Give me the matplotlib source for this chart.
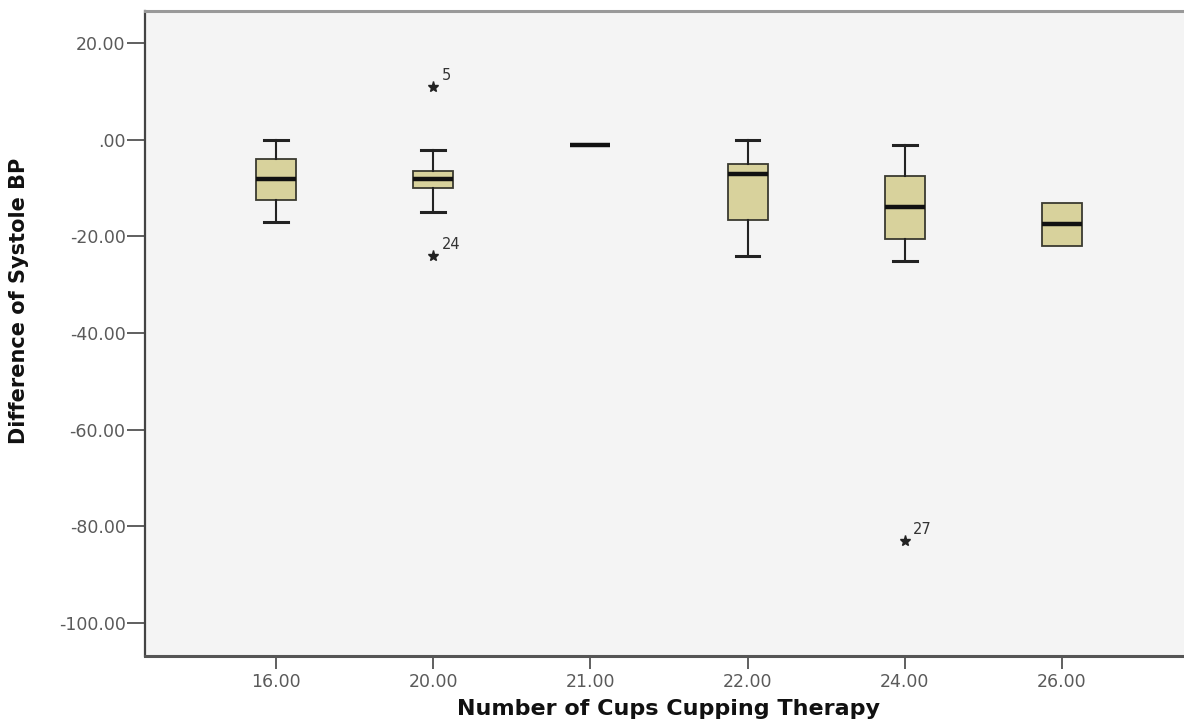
import numpy as np
import matplotlib
matplotlib.use('Agg')
import matplotlib.pyplot as plt

plt.rcParams['font.family'] = ['DejaVu Sans']

categories = ['16.00', '20.00', '21.00', '22.00', '24.00', '26.00']
whisker_low = [-17, -15, -1, -24, -25, -22]
q1 = [-12.5, -10, -1, -16.6, -20.5, -22]
median = [-8, -8, -1, -7, -14, -17.5]
q3 = [-4, -6.5, -1, -5, -7.4, -13]
whisker_high = [0, -2, -1, 0, -1, -13]

# extreme values (category index, value, case label)
outlier_cat = [1, 1, 4]
outlier_val = [11, -24, -83]
outlier_lab = ['5', '24', '27']

fig = plt.figure(figsize=(11.84, 7.23), dpi=100)
fig.patch.set_facecolor('white')
ax = fig.add_axes([145 / 1184, 1 - 656 / 723, 1 - 145 / 1184, (656 - 11) / 723])
ax.set_facecolor('#F4F4F4')

stats = []
for i in range(len(categories)):
    stats.append({'whislo': whisker_low[i], 'q1': q1[i], 'med': median[i],
                  'q3': q3[i], 'whishi': whisker_high[i], 'fliers': []})

pos = np.arange(len(categories))
bp = ax.bxp(stats, positions=pos, widths=0.255, patch_artist=True, showfliers=False,
            boxprops=dict(facecolor='#D8D29C', edgecolor='#3A3A30', linewidth=1.3),
            medianprops=dict(color='#111111', linewidth=3.2),
            whiskerprops=dict(color='#222222', linewidth=1.5),
            capprops=dict(color='#222222', linewidth=2.2),
            capwidths=0.15)

# no caps where the whisker ends at the box
for i in range(len(categories)):
    if whisker_low[i] == q1[i]:
        bp['caps'][2 * i].set_visible(False)
    if whisker_high[i] == q3[i]:
        bp['caps'][2 * i + 1].set_visible(False)

for c, v, lab in zip(outlier_cat, outlier_val, outlier_lab):
    ax.plot(pos[c], v, marker='*', color='#222222', markersize=8, linestyle='none')
    ax.annotate(lab, (pos[c], v), xytext=(6, 5), textcoords='offset points',
                fontsize=10.5, color='#333333')

ax.set_xlim(-0.833, 5.776)
ax.set_ylim(-106.9, 26.7)

yt = [20, 0, -20, -40, -60, -80, -100]
ax.set_yticks(yt)
ax.set_yticklabels(['20.00', '.00', '-20.00', '-40.00', '-60.00', '-80.00', '-100.00'],
                   fontsize=12.5, color='#5A5A5A')
ax.set_xticks(pos)
ax.set_xticklabels(categories, fontsize=12.5, color='#5A5A5A')
ax.tick_params(axis='x', direction='out', length=9, width=1.2, color='#444444', pad=3)
ax.tick_params(axis='y', direction='out', length=13, width=1.2, color='#444444', pad=1)

ax.spines['right'].set_visible(False)
ax.spines['left'].set_color('#444444')
ax.spines['left'].set_linewidth(1.6)
ax.spines['bottom'].set_color('#555555')
ax.spines['bottom'].set_linewidth(2.2)
ax.spines['top'].set_color('#999999')
ax.spines['top'].set_linewidth(2.2)

ax.set_ylabel('Difference of Systole BP', fontsize=15, fontweight='bold',
              family=['Liberation Sans Narrow', 'DejaVu Sans'], color='#111111')
ax.yaxis.set_label_coords(-0.112, 0.55)
ax.set_xlabel('Number of Cups Cupping Therapy', fontsize=16, fontweight='bold',
              color='#111111')
ax.xaxis.set_label_coords(0.504, -0.066)

fig.savefig('out.png', dpi=100)
